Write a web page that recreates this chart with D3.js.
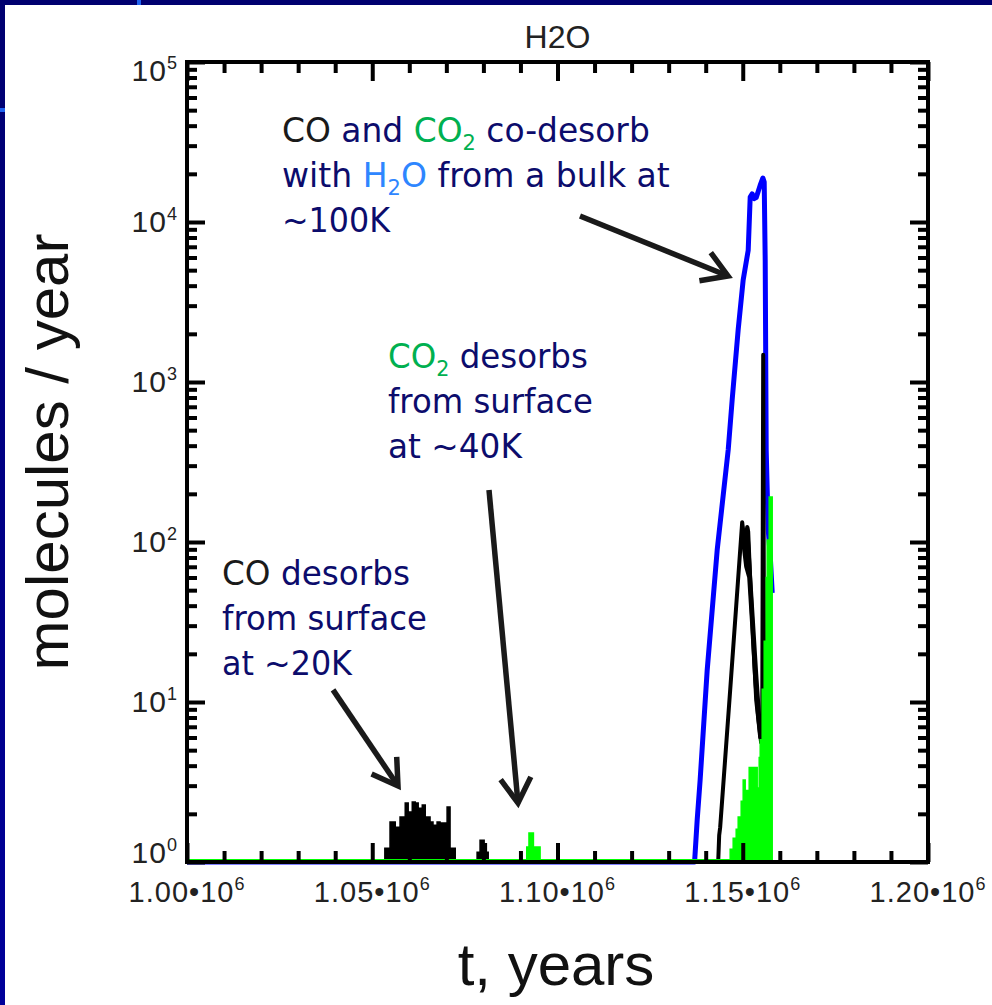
<!DOCTYPE html>
<html>
<head>
<meta charset="utf-8">
<script src="https://cdn.jsdelivr.net/npm/d3@7"></script>
<style>
  html, body { margin: 0; padding: 0; background: #fff; }
  svg { display: block; }
</style>
</head>
<body>
<script>
// ---------------- data ----------------
const xDomain = [1.00e6, 1.20e6];
const yDomain = [1, 1e5];
const xMajorTicks = [1.00e6, 1.05e6, 1.10e6, 1.15e6, 1.20e6];
const yMajorTicks = [1, 10, 100, 1000, 10000, 100000];
const xTickExponent = "6";
const chartTitle = "H2O";
const xAxisTitle = "t, years";
const yAxisTitle = "molecules / year";

// H2O desorption rate (blue)
const h2oYears = [1000000, 1137000, 1137700, 1138500, 1140400, 1143100, 1146070, 1147150, 1148770,
  1150120, 1150930, 1151470, 1152010, 1152550, 1153100, 1153630, 1154170, 1154710, 1155440,
  1155790, 1156060, 1156330, 1156870, 1157410, 1157950];
const h2oRate = [1, 1, 1.83, 3.26, 15.8, 89, 376, 776, 2130,
  4350, 5620, 6650, 14300, 15000, 14000, 14200, 15500, 17000, 18840,
  17800, 5790, 376, 119, 83, 48];

// CO desorption rate (black), main co-desorption curve
const coYears = [1143370, 1143640, 1143910, 1146610, 1148230, 1149850, 1150390, 1150660, 1151200,
  1151470, 1152010, 1152550, 1153090, 1153630, 1154170, 1154710, 1155250, 1155520, 1155790, 1156060];
const coRate = [1, 1.47, 1.65, 11.9, 39.8, 133, 103, 96, 124,
  116, 57.9, 32.6, 18.3, 10.3, 7.9, 6, 6, 1480, 6, 5];
// CO noise band on the falling side of the peak
const coBandYears = [1149850, 1150660, 1151470, 1152280, 1153090, 1153900, 1154710];
const coBandHigh = [133, 110, 125, 60, 30, 15, 8];
const coBandLow = [100, 70, 60, 30, 14, 8, 5.5];
// CO surface desorption bursts (~20K)
const coBurstYears = [1053400, 1054800, 1056200, 1057500, 1058900, 1059700, 1060800, 1061600, 1062400,
  1063500, 1064300, 1065600, 1066400, 1067500, 1068300, 1070200, 1071000, 1072400,
  1078300, 1079100, 1080200, 1080800, 1081300];
const coBurstRate = [1.22, 1.78, 1.65, 1.91, 2.34, 2.05, 2.37, 2.34, 2.17,
  2.27, 1.91, 1.78, 1.70, 1.78, 1.75, 2.21, 1.22, 1,
  1.15, 1.37, 1.30, 1.15, 1];

// CO2 desorption rate (green)
const co2BaseYears = [1000000, 1157950];
const co2BaseRate = [1, 1];
const co2BurstYears = [1091700, 1092300, 1093500, 1095300];
const co2BurstRate = [1.24, 1.52, 1.24, 1];
const co2PeakYears = [1146610, 1147420, 1148230, 1148770, 1149580, 1150120, 1150660, 1151200, 1151740,
  1153360, 1153900, 1154440, 1154710, 1155250, 1155790, 1156330, 1156600, 1157140, 1157950];
const co2PeakRate = [1.2, 1.41, 1.6, 1.91, 2.4, 3.25, 2.8, 2.8, 3.9,
  3.9, 2.9, 4.5, 5.8, 12, 24, 60, 103, 191, 1];

// ---------------- layout ----------------
const W = 992, H = 1005;
const plot = { left: 187, right: 928, top: 62, bottom: 862 };
const axisFont = "'Liberation Sans', Arial, Helvetica, sans-serif";
const noteFont = "'DejaVu Sans', Verdana, Tahoma, sans-serif";
const navy = "#0c0c6c", noteGreen = "#00b050", noteBlue = "#2e86ff", noteBlack = "#1a1a1a";

const x = d3.scaleLinear().domain(xDomain).range([plot.left, plot.right]);
const y = d3.scaleLog().domain(yDomain).range([plot.bottom, plot.top]);

const svg = d3.select("body").append("svg").attr("width", W).attr("height", H);

// slide background and border
svg.append("rect").attr("width", W).attr("height", H).attr("fill", "#fff");
const defs = svg.append("defs");
const lg = defs.append("linearGradient").attr("id", "edge").attr("x1", 0).attr("y1", 0).attr("x2", 0).attr("y2", 1);
lg.append("stop").attr("offset", "0%").attr("stop-color", "#000070");
lg.append("stop").attr("offset", "100%").attr("stop-color", "#00009a");
svg.append("rect").attr("x", 0).attr("y", 0).attr("width", W).attr("height", 5).attr("fill", "#000070");
svg.append("rect").attr("x", 0).attr("y", 0).attr("width", 5).attr("height", H).attr("fill", "url(#edge)");
svg.append("rect").attr("x", 137).attr("y", 0).attr("width", 4).attr("height", 5).attr("fill", "#1f63f0");
svg.append("rect").attr("x", 0).attr("y", 108).attr("width", 5).attr("height", 4).attr("fill", "#1f63f0");

defs.append("clipPath").attr("id", "plotClip").append("rect")
  .attr("x", plot.left).attr("y", plot.top)
  .attr("width", plot.right - plot.left).attr("height", plot.bottom - plot.top + 3);

const zip = (ts, vs) => ts.map((t, i) => ({ t, v: vs[i] }));
const line = d3.line().x(d => x(d.t)).y(d => y(d.v));
const stepArea = d3.area().x(d => x(d.t)).y0(y(1)).y1(d => y(d.v)).curve(d3.curveStepAfter);
const band = d3.area().x(d => x(d.t)).y0(d => y(d.lo)).y1(d => y(d.hi));

const g = svg.append("g").attr("clip-path", "url(#plotClip)");

// H2O
g.append("path").datum(zip(h2oYears, h2oRate)).attr("d", line)
  .attr("fill", "none").attr("stroke", "#0000ff").attr("stroke-width", 5).attr("stroke-linejoin", "round");

// CO
g.append("path").datum(coBandYears.map((t, i) => ({ t, hi: coBandHigh[i], lo: coBandLow[i] })))
  .attr("d", band).attr("fill", "#000").attr("stroke", "#000").attr("stroke-width", 2);
g.append("path").datum(zip(coYears, coRate)).attr("d", line)
  .attr("fill", "none").attr("stroke", "#000").attr("stroke-width", 4).attr("stroke-linejoin", "round");
g.append("path").datum(zip(coBurstYears, coBurstRate)).attr("d", stepArea)
  .attr("fill", "#000").attr("stroke", "#000").attr("stroke-width", 1.5);

// CO2
g.append("path").datum(zip(co2BurstYears, co2BurstRate)).attr("d", stepArea)
  .attr("fill", "#00ff00").attr("stroke", "#00ff00").attr("stroke-width", 1.5);
g.append("path").datum(zip(co2PeakYears, co2PeakRate)).attr("d", stepArea)
  .attr("fill", "#00ff00").attr("stroke", "#00ff00").attr("stroke-width", 1.5);
g.append("path").datum(zip(co2BaseYears, co2BaseRate)).attr("d", line)
  .attr("fill", "none").attr("stroke", "#00ff00").attr("stroke-width", 4)
  .attr("transform", "translate(0,-1)");

// ---------------- frame and axes ----------------
svg.append("rect").attr("x", plot.left).attr("y", plot.top)
  .attr("width", plot.right - plot.left).attr("height", plot.bottom - plot.top)
  .attr("fill", "none").attr("stroke", "#000").attr("stroke-width", 4);

const xMinor = d3.range(xDomain[0], xDomain[1] + 1, 10000).filter(t => !xMajorTicks.some(m => Math.abs(m - t) < 1));
const yMinor = [];
for (let d = 0; d < 5; d++) for (let k = 2; k <= 9; k++) yMinor.push(k * Math.pow(10, d));

// inward-pointing ticks on all four sides (labels drawn separately)
function styleAxis(sel) {
  sel.select(".domain").remove();
  sel.selectAll(".tick text").remove();
  sel.selectAll(".tick line").attr("stroke", "#000").attr("stroke-width", 4);
}
const axes = svg.append("g");
const addAxis = (gen, tx, ty) => axes.append("g")
  .attr("transform", `translate(${tx},${ty})`).call(gen).call(styleAxis);

addAxis(d3.axisBottom(x).tickValues(xMinor).tickSize(-11), 0, plot.bottom);
addAxis(d3.axisBottom(x).tickValues(xMajorTicks).tickSize(-19), 0, plot.bottom);
addAxis(d3.axisTop(x).tickValues(xMinor).tickSize(-11), 0, plot.top);
addAxis(d3.axisTop(x).tickValues(xMajorTicks).tickSize(-19), 0, plot.top);
addAxis(d3.axisLeft(y).tickValues(yMinor).tickSize(-10), plot.left, 0);
addAxis(d3.axisLeft(y).tickValues(yMajorTicks).tickSize(-18), plot.left, 0);
addAxis(d3.axisRight(y).tickValues(yMinor).tickSize(-10), plot.right, 0);
addAxis(d3.axisRight(y).tickValues(yMajorTicks).tickSize(-18), plot.right, 0);

// x tick labels: "1.00•10^6"
const fmt = d3.format(".2f");
xMajorTicks.forEach(t => {
  const tx = svg.append("text").attr("x", x(t)).attr("y", plot.bottom + 40)
    .attr("text-anchor", "middle").attr("font-family", axisFont).attr("font-size", 29)
    .attr("letter-spacing", 1).attr("fill", "#222");
  tx.append("tspan").text(fmt(t / 1e6) + "\u202210");
  tx.append("tspan").attr("dy", -12).attr("font-size", 18).text(xTickExponent);
});

// y tick labels: "10^n"
yMajorTicks.forEach(v => {
  const ty = Math.min(Math.max(y(v) + 10, plot.top + 19), plot.bottom + 1);
  const tx = svg.append("text").attr("x", 178).attr("y", ty)
    .attr("text-anchor", "end").attr("font-family", axisFont).attr("font-size", 30)
    .attr("letter-spacing", 1).attr("fill", "#222");
  tx.append("tspan").text("10");
  tx.append("tspan").attr("dy", -12).attr("font-size", 18).text(String(Math.round(Math.log10(v))));
});

// titles
svg.append("text").attr("x", (plot.left + plot.right) / 2).attr("y", 48)
  .attr("text-anchor", "middle").attr("font-family", axisFont).attr("font-size", 32)
  .attr("fill", "#222").text(chartTitle);
svg.append("text").attr("x", 556).attr("y", 985)
  .attr("text-anchor", "middle").attr("font-family", axisFont).attr("font-size", 60)
  .attr("fill", "#111").text(xAxisTitle);
svg.append("text").attr("transform", "translate(68,452) rotate(-90)")
  .attr("text-anchor", "middle").attr("font-family", axisFont).attr("font-size", 60)
  .attr("fill", "#111").text(yAxisTitle);

// ---------------- annotations ----------------
// each line: list of [text, colour, subscript?]
const notes = [
  { t: 1025640, v: 31600, widths: [368, 388, 108], lines: [
      [["CO", noteBlack], [" and ", navy], ["CO", noteGreen], ["2", noteGreen, true], [" co-desorb", navy]],
      [["with ", navy], ["H", noteBlue], ["2", noteBlue, true], ["O", noteBlue], [" from a bulk at", navy]],
      [["~100K", navy]] ] },
  { t: 1054250, v: 1223, widths: [200, 205, 134], lines: [
      [["CO", noteGreen], ["2", noteGreen, true], [" desorbs", navy]],
      [["from surface", navy]],
      [["at ~40K", navy]] ] },
  { t: 1009450, v: 53.9, widths: [188, 205, 130], lines: [
      [["CO", noteBlack], [" desorbs", navy]],
      [["from surface", navy]],
      [["at ~20K", navy]] ] }
];
const lineGap = 45;
notes.forEach(n => {
  const x0 = x(n.t), y0 = y(n.v);
  n.lines.forEach((parts, li) => {
    const txt = svg.append("text").attr("x", x0).attr("y", y0 + li * lineGap)
      .attr("font-family", noteFont).attr("font-size", 33);
    let sub = false;
    parts.forEach(([s, c, isSub]) => {
      const sp = txt.append("tspan").attr("fill", c).text(s);
      if (isSub && !sub) { sp.attr("dy", 8).attr("font-size", 21); sub = true; }
      else if (!isSub && sub) { sp.attr("dy", -8); sub = false; }
    });
    const w = txt.node().getComputedTextLength();
    const sx = n.widths[li] / w;
    txt.attr("transform", `translate(${x0},0) scale(${sx},1) translate(${-x0},0)`);
  });
});

// arrows, anchored in data coordinates
const arrows = [
  { from: [1106070, 10900], to: [1146020, 4600] },
  { from: [1081510, 211], to: [1089340, 2.34] },
  { from: [1039410, 11.9], to: [1056950, 2.99] }
];
arrows.forEach(a => {
  const x1 = x(a.from[0]), y1 = y(a.from[1]), x2 = x(a.to[0]), y2 = y(a.to[1]);
  const ang = Math.atan2(y2 - y1, x2 - x1);
  const L = 29, spread = 0.55;
  const ag = svg.append("g").attr("stroke", "#1a1a1a").attr("stroke-width", 5.5).attr("fill", "none");
  ag.append("line").attr("x1", x1).attr("y1", y1).attr("x2", x2 - 2 * Math.cos(ang)).attr("y2", y2 - 2 * Math.sin(ang));
  ag.append("path").attr("stroke-linejoin", "miter").attr("d",
    `M${x2 - L * Math.cos(ang - spread)},${y2 - L * Math.sin(ang - spread)}` +
    `L${x2},${y2}` +
    `L${x2 - L * Math.cos(ang + spread)},${y2 - L * Math.sin(ang + spread)}`);
});
</script>
</body>
</html>
